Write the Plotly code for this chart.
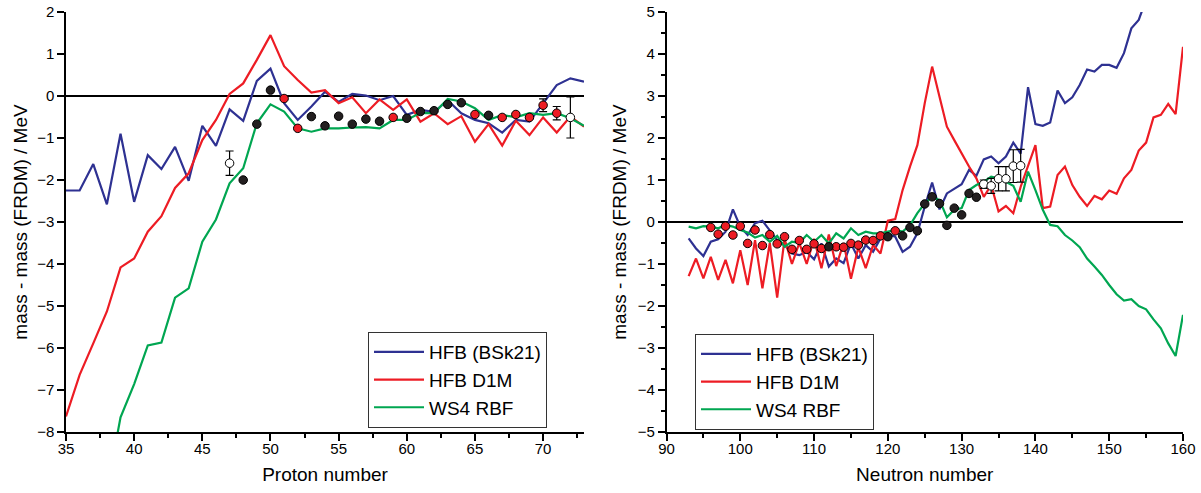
import plotly.graph_objects as go

# ---------------- Left panel: Proton number ----------------
proton_z = list(range(35, 74))
bsk21_z = [-2.25, -2.25, -1.62, -2.58, -0.90, -2.52, -1.41, -1.74, -1.21, -2.02,
           -0.71, -1.19, -0.32, -0.59, 0.36, 0.65, -0.17, -0.57, -0.25, 0.10,
           -0.14, 0.05, 0.01, -0.10, 0.00, -0.45, -0.33, -0.38, -0.10, -0.41,
           -0.57, -0.65, -0.87, -0.57, -0.61, -0.17, 0.26, 0.42, 0.34]
d1m_z = [-7.63, -6.64, -5.89, -5.13, -4.08, -3.87, -3.23, -2.86, -2.19, -1.84,
         -1.05, -0.57, 0.05, 0.30, 0.86, 1.45, 0.71, 0.38, 0.08, 0.14,
         -0.17, -0.03, -0.41, -0.08, -0.33, -0.08, -0.61, -0.41, -0.67, -0.48,
         -1.09, -0.67, -1.18, -0.59, -0.93, -0.51, -0.87, -0.49, -0.73]
ws4_z_x = list(range(38, 74))
ws4_z = [-9.40, -7.65, -6.86, -5.94, -5.87, -4.80, -4.58, -3.47, -2.94, -2.08,
         -1.72, -0.65, -0.20, -0.37, -0.77, -0.85, -0.77, -0.77, -0.75, -0.74,
         -0.77, -0.57, -0.57, -0.40, -0.41, -0.07, -0.13, -0.29, -0.57, -0.45,
         -0.51, -0.41, -0.45, -0.41, -0.53, -0.71]

exp_black_z = [48, 49, 50, 53, 54, 55, 56, 57, 58, 60, 61, 62, 63, 64, 66]
exp_black_zv = [-2.00, -0.67, 0.14, -0.49, -0.71, -0.48, -0.67, -0.55, -0.60,
                -0.53, -0.37, -0.35, -0.20, -0.16, -0.46]
exp_red_z = [51, 52, 59, 65, 67, 68, 69, 70, 71]
exp_red_zv = [-0.06, -0.77, -0.51, -0.44, -0.51, -0.44, -0.51, -0.22, -0.41]
exp_red_zerr = [None, None, None, None, None, None, None, 0.15, 0.16]
exp_open_z = [47, 72]
exp_open_zv = [-1.60, -0.51]
exp_open_zerr = [0.29, 0.49]

# ---------------- Right panel: Neutron number ----------------
bsk21_n_x = list(range(93, 157))
bsk21_n = [-0.39, -0.63, -0.81, -0.47, -0.41, -0.23, 0.30, -0.11, -0.31, -0.03,
           0.03, -0.19, -0.43, -0.55, -0.75, -0.79, -0.71, -0.89, -0.51, -1.06,
           -0.87, -0.98, -0.51, -0.87, -0.55, -0.71, -0.39, -0.29, -0.35, -0.71,
           -0.59, -0.27, 0.37, 0.94, 0.30, 0.68, 0.80, 0.90, 1.24, 1.10,
           1.49, 1.56, 1.40, 1.56, 1.89, 1.63, 3.21, 2.33, 2.29, 2.37,
           3.13, 2.83, 2.97, 3.26, 3.63, 3.58, 3.74, 3.74, 3.67, 4.02,
           4.61, 4.81, 5.30, 5.60]
d1m_n_x = list(range(93, 161))
d1m_n = [-1.29, -0.87, -1.34, -0.83, -1.38, -0.90, -1.46, -0.67, -1.50, -0.43,
         -1.58, -0.50, -1.80, -0.40, -1.00, -0.50, -1.00, -0.40, -1.10, -0.30,
         -1.05, -0.50, -1.35, -0.60, -1.10, -0.55, -0.75, 0.03, 0.07, 0.76,
         1.32, 1.83, 2.83, 3.70, 2.98, 2.27, 1.95, 1.63, 1.32, 1.04,
         0.60, 0.88, 0.25, 0.38, 0.21, 0.84, 1.32, 1.83, 0.33, 0.37,
         1.12, 1.32, 0.88, 0.60, 0.38, 0.62, 0.54, 0.75, 0.67, 1.04,
         1.24, 1.70, 1.89, 2.49, 2.55, 2.81, 2.57, 4.17]
ws4_n_x = list(range(93, 161))
ws4_n = [-0.11, -0.15, -0.10, -0.11, -0.15, -0.07, -0.11, -0.19, -0.25, -0.37,
         -0.31, -0.47, -0.33, -0.59, -0.47, -0.50, -0.31, -0.47, -0.31, -0.51,
         -0.27, -0.39, -0.15, -0.31, -0.23, -0.27, -0.27, -0.23, -0.19, -0.23,
         -0.08, 0.21, 0.44, 0.60, 0.52, 0.11, 0.29, 0.33, 0.76, 0.88,
         0.96, 1.08, 1.04, 0.96, 0.86, 0.48, 1.20, 0.76, 0.29, -0.07,
         -0.10, -0.31, -0.44, -0.60, -0.87, -1.06, -1.26, -1.50, -1.72, -1.87,
         -1.84, -2.00, -2.08, -2.32, -2.53, -2.89, -3.19, -2.21]

exp_red_n = [96, 97, 98, 99, 100, 101, 102, 103, 104, 105, 106, 107, 108, 109,
             110, 111, 113, 114, 115, 116, 117, 118, 119, 121]
exp_red_nv = [-0.13, -0.29, -0.10, -0.31, -0.10, -0.51, -0.19, -0.56, -0.30,
              -0.52, -0.35, -0.65, -0.44, -0.65, -0.52, -0.63, -0.59, -0.60,
              -0.51, -0.55, -0.43, -0.44, -0.33, -0.21]
exp_black_n = [112, 120, 122, 123, 124, 125, 126, 127, 128, 129, 130, 131, 132]
exp_black_nv = [-0.59, -0.35, -0.33, -0.13, -0.21, 0.43, 0.60, 0.44, -0.08,
                0.33, 0.17, 0.68, 0.59]
exp_open_n = [133, 134, 135, 136, 137, 138]
exp_open_nv = [0.90, 0.86, 1.03, 1.03, 1.33, 1.34]
exp_open_nerr = [0.10, 0.18, 0.29, 0.29, 0.39, 0.39]

# ---------------- Styling ----------------
W, H = 1201, 493
ML, MR, MT, MB = 30, 2, 2, 30
PW, PH = W - ML - MR, H - MT - MB


def fx(px):
    return (px - ML) / PW


def fy(py):
    return (H - MB - py) / PH


BLUE = '#2E3192'
RED = '#ED1C24'
GREEN = '#00A651'
BLACK = '#231F20'
FONT = 'Liberation Sans, Arial, sans-serif'

fig = go.Figure()


def add_lines(xs, ys, color, name, xa, ya, leg):
    fig.add_trace(go.Scatter(x=xs, y=ys, mode='lines', name=name,
                             line=dict(color=color, width=2.2),
                             xaxis=xa, yaxis=ya, legend=leg))


def add_points(xs, ys, fill, xa, ya, err=None):
    kw = {}
    if err is not None:
        kw['error_y'] = dict(type='data', array=err, visible=True,
                             color='black', thickness=1.2, width=4)
    fig.add_trace(go.Scatter(x=xs, y=ys, mode='markers', showlegend=False,
                             marker=dict(color=fill, size=8.5,
                                         line=dict(color='black', width=1)),
                             xaxis=xa, yaxis=ya, **kw))


# Left
add_lines(proton_z, bsk21_z, BLUE, 'HFB (BSk21)', 'x', 'y', 'legend')
add_lines(proton_z, d1m_z, RED, 'HFB D1M', 'x', 'y', 'legend')
add_lines(ws4_z_x, ws4_z, GREEN, 'WS4 RBF', 'x', 'y', 'legend')
add_points(exp_black_z, exp_black_zv, BLACK, 'x', 'y')
add_points(exp_red_z, exp_red_zv, RED, 'x', 'y', exp_red_zerr)
add_points(exp_open_z, exp_open_zv, 'white', 'x', 'y', exp_open_zerr)

# Right
add_lines(bsk21_n_x, bsk21_n, BLUE, 'HFB (BSk21)', 'x2', 'y2', 'legend2')
add_lines(d1m_n_x, d1m_n, RED, 'HFB D1M', 'x2', 'y2', 'legend2')
add_lines(ws4_n_x, ws4_n, GREEN, 'WS4 RBF', 'x2', 'y2', 'legend2')
add_points(exp_red_n, exp_red_nv, RED, 'x2', 'y2')
add_points(exp_black_n, exp_black_nv, BLACK, 'x2', 'y2')
add_points(exp_open_n, exp_open_nv, 'white', 'x2', 'y2', exp_open_nerr)

tickfont = dict(family=FONT, size=15, color='black')
titlefont = dict(family=FONT, size=19, color='black')

common_axis = dict(showgrid=False, showline=True, linecolor='black',
                   linewidth=1.5, ticks='outside', ticklen=7, tickwidth=1.5,
                   tickcolor='black', tickfont=tickfont, automargin=False)

yd = [fy(432), fy(12)]
xd_left = [fx(66), fx(584)]
xd_right = [fx(666.5), fx(1183)]

legend_style = dict(xanchor='left', yanchor='top', bgcolor='white',
                    bordercolor='#333333', borderwidth=1,
                    font=dict(family=FONT, size=19, color='black'),
                    itemwidth=50, tracegroupgap=0)

fig.update_layout(
    width=W, height=H,
    margin=dict(l=ML, r=MR, t=MT, b=MB),
    paper_bgcolor='white', plot_bgcolor='white',
    font=dict(family=FONT, color='black'),
    xaxis=dict(domain=xd_left, range=[35, 73], anchor='y', dtick=5, tick0=35,
               zeroline=False, ticklabelstandoff=-5,
               minor=dict(dtick=2.5, tick0=35, ticks='outside', ticklen=4,
                          tickwidth=1.5, tickcolor='black'),
               title=dict(text='Proton number', font=titlefont, standoff=12),
               **common_axis),
    yaxis=dict(domain=yd, range=[-8, 2], anchor='x', dtick=1, tick0=0,
               zeroline=True, zerolinecolor='black', zerolinewidth=2,
               title=dict(text='mass - mass (FRDM) / MeV', font=titlefont,
                          standoff=4),
               **common_axis),
    xaxis3=dict(overlaying='x', side='top', anchor='y', range=[35, 73],
                dtick=2.5, tick0=35, ticks='inside', ticklen=4, tickwidth=1.5,
                tickcolor='black', showticklabels=False, showline=True,
                linecolor='black', linewidth=1.5, showgrid=False,
                zeroline=False),
    yaxis3=dict(overlaying='y', side='right', anchor='x', range=[-8, 2],
                dtick=1, tick0=0, ticks='inside', ticklen=4, tickwidth=1.5,
                tickcolor='black', showticklabels=False, showline=True,
                linecolor='black', linewidth=1.5, showgrid=False,
                zeroline=False),
    xaxis2=dict(domain=xd_right, range=[90, 160], anchor='y2', dtick=10,
                tick0=90, zeroline=False, ticklabelstandoff=-5,
                minor=dict(dtick=5, tick0=90, ticks='outside', ticklen=4,
                           tickwidth=1.5, tickcolor='black'),
                title=dict(text='Neutron number', font=titlefont, standoff=12),
                **common_axis),
    yaxis2=dict(domain=yd, range=[-5, 5], anchor='x2', dtick=1, tick0=0,
                zeroline=True, zerolinecolor='black', zerolinewidth=2,
                minor=dict(dtick=0.5, tick0=0, ticks='outside', ticklen=4,
                           tickwidth=1.5, tickcolor='black'),
                title=dict(text='mass - mass (FRDM) / MeV', font=titlefont,
                           standoff=6),
                **common_axis),
    xaxis4=dict(overlaying='x2', side='top', anchor='y2', range=[90, 160],
                dtick=5, tick0=90, ticks='inside', ticklen=4, tickwidth=1.5,
                tickcolor='black', showticklabels=False, showline=True,
                linecolor='black', linewidth=1.5, showgrid=False,
                zeroline=False),
    yaxis4=dict(overlaying='y2', side='right', anchor='x2', range=[-5, 5],
                dtick=0.5, tick0=0, ticks='inside', ticklen=4, tickwidth=1.5,
                tickcolor='black', showticklabels=False, showline=True,
                linecolor='black', linewidth=1.5, showgrid=False,
                zeroline=False),
    legend=dict(x=fx(368), y=fy(332), **legend_style),
    legend2=dict(x=fx(695), y=fy(334), **legend_style),
)

# remove the default page margin so the figure sits at the window's corner
fig.write_html('out.html',
               config={'displayModeBar': False},
               post_script="document.body.style.margin='0';")
